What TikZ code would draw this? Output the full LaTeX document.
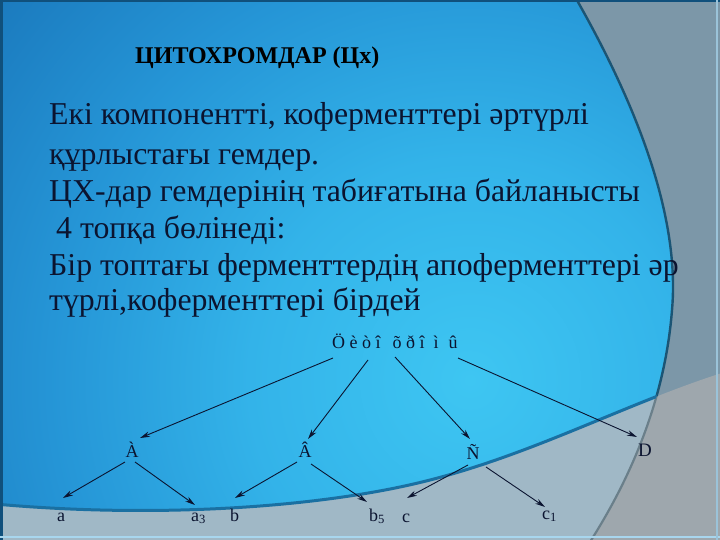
\documentclass[tikz,border=0pt]{standalone}
\usepackage{fontspec}
\setmainfont{Liberation Serif}
\usetikzlibrary{arrows.meta,calc}
\definecolor{bgA}{HTML}{3EC6F2}
\definecolor{bgB}{HTML}{33B3E9}
\definecolor{bgC}{HTML}{2595D6}
\definecolor{bgD}{HTML}{1A78BC}
\definecolor{grayR}{HTML}{7C97A8}
\definecolor{bandL}{HTML}{A0B8C6}
\definecolor{bandR}{HTML}{9EA7AD}
\definecolor{edgeC}{HTML}{1B5575}
\definecolor{edgeG}{HTML}{6A7F8A}
\definecolor{curveB}{HTML}{1A70A2}
\definecolor{ink}{HTML}{0B1430}
\definecolor{topline}{HTML}{10507C}
\definecolor{lightline}{HTML}{A8D6EE}
\pgfdeclareradialshading{bgrad}{\pgfpoint{0bp}{0bp}}{color(0bp)=(bgA); color(220bp)=(bgB); color(420bp)=(bgC); color(620bp)=(bgD); color(750bp)=(bgD)}
\tikzset{
  bodytext/.style={anchor=base west, inner sep=0pt, text=ink, font=\fontsize{31.8}{38}\selectfont},
  titletext/.style={anchor=base west, inner sep=0pt, text=black, font=\bfseries\fontsize{24}{28}\selectfont},
  treetext/.style={inner sep=0pt, text=ink, font=\fontsize{18}{20}\selectfont},
  arr/.style={draw=ink, line width=0.9pt, -{Stealth[length=10pt,width=5.5pt]}}
}
\begin{document}
\begin{tikzpicture}[x=1pt,y=-1pt]
\useasboundingbox (0,0) rectangle (720,540);
\fill[grayR] (0,0) rectangle (720,540);
% blue region
\begin{scope}
\clip (-5,-5) -- (574,-5) .. controls (640,110) and (680,220) .. (672,310) .. controls (665,400) and (630,480) .. (588,545) -- (-5,545) -- cycle;
\node[inner sep=0pt] at (470,380) {\pgfuseshading{bgrad}};
\end{scope}
% bottom band
\begin{scope}
\clip (-5,504) .. controls (150,518) and (300,508) .. (400,487) .. controls (520,462) and (620,405) .. (725,372) -- (725,545) -- (-5,545) -- cycle;
\fill[bandL] (-5,-5) -- (574,-5) .. controls (640,110) and (680,220) .. (672,310) .. controls (665,400) and (630,480) .. (588,545) -- (-5,545) -- cycle;
\fill[bandR] (574,-5) .. controls (640,110) and (680,220) .. (672,310) .. controls (665,400) and (630,480) .. (588,545) -- (725,545) -- (725,-5) -- cycle;
\draw[edgeG, line width=2.2pt] (574,-5) .. controls (640,110) and (680,220) .. (672,310) .. controls (665,400) and (630,480) .. (588,545);
\end{scope}
% ellipse edge above band
\begin{scope}
\clip (-5,-5) -- (-5,504) .. controls (150,518) and (300,508) .. (400,487) .. controls (520,462) and (620,405) .. (725,372) -- (725,-5) -- cycle;
\draw[edgeC, line width=2.4pt] (574,-5) .. controls (640,110) and (680,220) .. (672,310) .. controls (665,400) and (630,480) .. (588,545);
\end{scope}
% band top curve
\begin{scope}
\clip (-5,-5) -- (574,-5) .. controls (640,110) and (680,220) .. (672,310) .. controls (665,400) and (630,480) .. (588,545) -- (-5,545) -- cycle;
\draw[curveB, line width=3pt] (-5,504) .. controls (150,518) and (300,508) .. (400,487) .. controls (520,462) and (620,405) .. (725,372);
\end{scope}
% frame lines
\fill[topline] (0,0) rectangle (720,2.5);
\fill[topline] (0,0) rectangle (2.5,540);
\fill[lightline] (0,535.5) rectangle (720,537.5);
\fill[lightline!70!grayR] (716,0) rectangle (717.5,540);
% title and text
\node[titletext] (title) at (135,64) {ЦИТОХРОМДАР (Цх)};
\node[bodytext] (l1) at (49,125) {Екі компоненттi, коферменттерi әртүрлi};
\node[bodytext] (l2) at (49,165) {құрлыстағы гемдер.};
\node[bodytext] (l3) at (49,202) {ЦХ-дар гемдерінің табиғатына байланысты};
\node[bodytext] (l4) at (56,238) {4 топқа бөлінеді:};
\node[bodytext] (l5) at (49,275) {Бір топтағы ферменттердің апоферменттері әр};
\node[bodytext] (l6) at (49,310) {түрлі,коферменттері бірдей};
% tree
\node[treetext, anchor=base west] (root) at (332,348) {Ö è ò î\hspace{12pt}õ ð î\hspace{9pt}ì\hspace{10pt}û};
\node[treetext, anchor=base] (A) at (132,457) {À};
\node[treetext, anchor=base] (B) at (305,457) {Â};
\node[treetext, anchor=base] (C) at (473,459) {Ñ};
\node[treetext, anchor=base, font=\fontsize{19}{21}\selectfont] (D) at (645,456) {D};
\node[treetext, anchor=base west] (a) at (57,521) {a};
\node[treetext, anchor=base west] (a3) at (191,521) {a\textsubscript{3}};
\node[treetext, anchor=base west] (b) at (230,521) {b};
\node[treetext, anchor=base west] (b5) at (369,521) {b\textsubscript{5}};
\node[treetext, anchor=base west] (c) at (402,522) {c};
\node[treetext, anchor=base west] (c1) at (542,519) {c\textsubscript{1}};
\draw[arr] ($(root.base west)+(1,10)$) -- ($(A.base)+(8,-19)$);
\draw[arr] ($(root.base west)+(36,12)$) -- ($(B.base)+(3,-18)$);
\draw[arr] ($(root.base west)+(63,9)$) -- ($(C.base)+(-3,-20)$);
\draw[arr] ($(root.base west)+(126,10)$) -- ($(D.base)+(-8,-19)$);
\draw[arr] ($(A.base)+(-7,5)$) -- ($(a.base west)+(6,-23)$);
\draw[arr] ($(A.base)+(3,5)$) -- ($(a3.base west)+(4,-16)$);
\draw[arr] ($(B.base)+(-8,5)$) -- ($(b.base west)+(5,-23)$);
\draw[arr] ($(B.base)+(6,7)$) -- ($(b5.base west)+(-2,-19)$);
\draw[arr] ($(C.base)+(-5,6)$) -- ($(c.base west)+(5,-24)$);
\draw[arr] ($(C.base)+(13,8)$) -- ($(c1.base west)+(3,-12)$);
\end{tikzpicture}
\end{document}
